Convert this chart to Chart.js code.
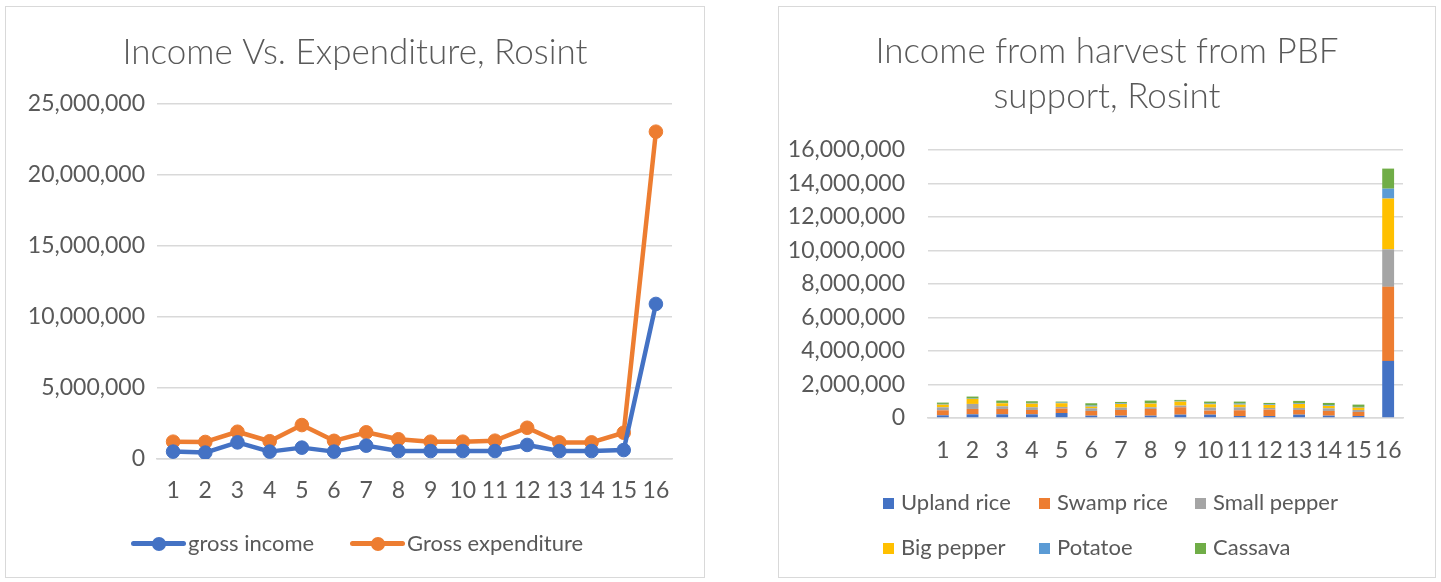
<!DOCTYPE html>
<html>
<head>
<meta charset="utf-8">
<script src="https://cdn.jsdelivr.net/npm/chart.js@4/dist/chart.umd.min.js"></script>
<style>
  body { margin: 0; background: #fff; width: 1441px; height: 582px; position: relative; overflow: hidden; font-family: Lato, sans-serif; }
  .box { position: absolute; border: 1px solid #d9d9d9; background: #fff; }
  #box1 { left: 5px; top: 6px; width: 698px; height: 570px; }
  #box2 { left: 778px; top: 6px; width: 656px; height: 570px; }
  canvas { display: block; }
  .key { position: absolute; height: 24px; line-height: 24px; font-size: 22px; color: #595959; white-space: nowrap; }
  .key .sq { display: inline-block; width: 11px; height: 11px; margin-right: 7px; vertical-align: 1px; }
  .key .mark { display: inline-block; position: relative; width: 55px; height: 5px; border-radius: 2.5px; margin-right: 2px; vertical-align: 5px; }
  .key .mark::after { content: ''; position: absolute; left: 20.5px; top: -4.5px; width: 14px; height: 14px; border-radius: 50%; background: inherit; }
</style>
</head>
<body>
<div class="box" id="box1"><canvas id="incomeChart" width="698" height="570"></canvas><div id="incomeKey"></div></div>
<div class="box" id="box2"><canvas id="harvestChart" width="656" height="570"></canvas><div id="harvestKey"></div></div>

<script>
// groups 1..16
const groups = ['1', '2', '3', '4', '5', '6', '7', '8', '9', '10', '11', '12', '13', '14', '15', '16'];

const grossIncome = [520000, 450000, 1170000, 520000, 800000, 520000, 940000, 560000, 560000, 560000, 560000, 990000, 560000, 560000, 630000, 10920000];
const grossExpenditure = [1220000, 1200000, 1920000, 1250000, 2390000, 1280000, 1880000, 1390000, 1220000, 1220000, 1290000, 2200000, 1170000, 1170000, 1850000, 23050000];

// harvest income by crop
const uplandRice = [160000, 220000, 220000, 220000, 300000, 140000, 140000, 140000, 200000, 200000, 120000, 120000, 200000, 140000, 120000, 3410000];
const swampRice = [300000, 320000, 320000, 260000, 260000, 280000, 340000, 400000, 440000, 240000, 340000, 380000, 280000, 280000, 240000, 4420000];
const smallPepper = [180000, 300000, 160000, 160000, 100000, 160000, 140000, 100000, 100000, 180000, 180000, 100000, 120000, 160000, 120000, 2240000];
const bigPepper = [160000, 300000, 180000, 220000, 220000, 100000, 220000, 220000, 240000, 200000, 160000, 180000, 240000, 140000, 140000, 3030000];
const potatoe = [40000, 20000, 20000, 40000, 40000, 60000, 40000, 20000, 40000, 40000, 60000, 40000, 40000, 40000, 40000, 590000];
const cassava = [80000, 120000, 140000, 100000, 60000, 140000, 80000, 160000, 60000, 120000, 120000, 80000, 140000, 140000, 140000, 1200000];

const textColor = '#595959';
const gridColor = '#d9d9d9';
const fontFamily = 'Lato, sans-serif';
const tickFont = { family: fontFamily, size: 23 };
const titleFont = { family: fontFamily, size: 35, weight: 300 };

function fmt(v) {
    return Number(v).toLocaleString('en-US');
}

// empty axis on the right, keeps a margin beside the plot while the title stays centred on the canvas
function rightMargin(w) {
    return {
        type: 'linear',
        position: 'right',
        grid: { display: false, drawTicks: false },
        border: { display: false },
        ticks: { display: false },
        afterFit: s => { s.width = w; }
    };
}

function lineSeries(label, data, color) {
    return {
        label: label,
        data: data,
        borderColor: color,
        backgroundColor: color,
        borderWidth: 4.5,
        borderJoinStyle: 'round',
        borderCapStyle: 'round',
        pointRadius: 6.8,
        pointBorderWidth: 1,
        pointBackgroundColor: color,
        pointBorderColor: color,
        tension: 0
    };
}

const series = [
    { label: 'gross income', data: grossIncome, color: '#4472C4' },
    { label: 'Gross expenditure', data: grossExpenditure, color: '#ED7D31' }
];

new Chart(document.getElementById('incomeChart'), {
    type: 'line',
    data: {
        labels: groups,
        datasets: series.map(s => lineSeries(s.label, s.data, s.color))
    },
    options: {
        responsive: false,
        animation: false,
        layout: { padding: { left: 0, right: 0, top: 1, bottom: 58 } },
        plugins: {
            title: {
                display: true,
                text: 'Income Vs. Expenditure, Rosint',
                color: textColor,
                font: titleFont,
                padding: { top: 24, bottom: 30 }
            },
            legend: { display: false },
            tooltip: { enabled: false }
        },
        scales: {
            x: {
                offset: true,
                grid: { display: false, drawTicks: false },
                border: { color: gridColor, width: 1.5 },
                ticks: { color: textColor, font: tickFont, padding: 18, maxRotation: 0, autoSkip: false },
                afterFit: s => { s.height = 60; }
            },
            y: {
                min: 0,
                max: 25000000,
                grid: { color: gridColor, lineWidth: 1.5, drawTicks: false },
                border: { display: false },
                ticks: { stepSize: 5000000, color: textColor, font: tickFont, padding: 12, callback: fmt },
                afterFit: s => { s.width = 151; }
            },
            margin: rightMargin(32)
        }
    }
});

const crops = [
    { label: 'Upland rice', data: uplandRice, color: '#4472C4' },
    { label: 'Swamp rice', data: swampRice, color: '#ED7D31' },
    { label: 'Small pepper', data: smallPepper, color: '#A5A5A5' },
    { label: 'Big pepper', data: bigPepper, color: '#FFC000' },
    { label: 'Potatoe', data: potatoe, color: '#5B9BD5' },
    { label: 'Cassava', data: cassava, color: '#70AD47' }
];

new Chart(document.getElementById('harvestChart'), {
    type: 'bar',
    data: {
        labels: groups,
        datasets: crops.map(c => ({
            label: c.label,
            data: c.data,
            backgroundColor: c.color,
            borderWidth: 0,
            barPercentage: 0.4,
            categoryPercentage: 1
        }))
    },
    options: {
        responsive: false,
        animation: false,
        layout: { padding: { left: 0, right: 0, top: 0, bottom: 99 } },
        plugins: {
            title: {
                display: true,
                text: ['Income from harvest from PBF', 'support, Rosint'],
                color: textColor,
                font: Object.assign({}, titleFont, { lineHeight: 45 / 35 }),
                padding: { top: 22.5, bottom: 30.5 }
            },
            legend: { display: false },
            tooltip: { enabled: false }
        },
        scales: {
            x: {
                stacked: true,
                grid: { display: false, drawTicks: false },
                border: { color: gridColor, width: 1.5 },
                ticks: { color: textColor, font: tickFont, padding: 19, maxRotation: 0, autoSkip: false },
                afterFit: s => { s.height = 60; }
            },
            y: {
                stacked: true,
                min: 0,
                max: 16000000,
                grid: { color: gridColor, lineWidth: 1.5, drawTicks: false },
                border: { display: false },
                ticks: { stepSize: 2000000, color: textColor, font: tickFont, padding: 23, callback: fmt },
                afterFit: s => { s.width = 149; }
            },
            margin: rightMargin(32)
        }
    }
});

// legends, placed by hand
const incomeKey = document.getElementById('incomeKey');
[125, 344].forEach((left, i) => {
    const el = document.createElement('div');
    el.className = 'key';
    el.style.left = left + 'px';
    el.style.top = '524px';
    el.innerHTML = '<i class="mark" style="background:' + series[i].color + '"></i>' + series[i].label;
    incomeKey.appendChild(el);
});

const keyCols = [104, 260, 416];
const keyRows = [483, 528];
const harvestKey = document.getElementById('harvestKey');
crops.forEach((c, i) => {
    const el = document.createElement('div');
    el.className = 'key';
    el.style.left = keyCols[i % 3] + 'px';
    el.style.top = keyRows[Math.floor(i / 3)] + 'px';
    el.innerHTML = '<span class="sq" style="background:' + c.color + '"></span>' + c.label;
    harvestKey.appendChild(el);
});
</script>
</body>
</html>
